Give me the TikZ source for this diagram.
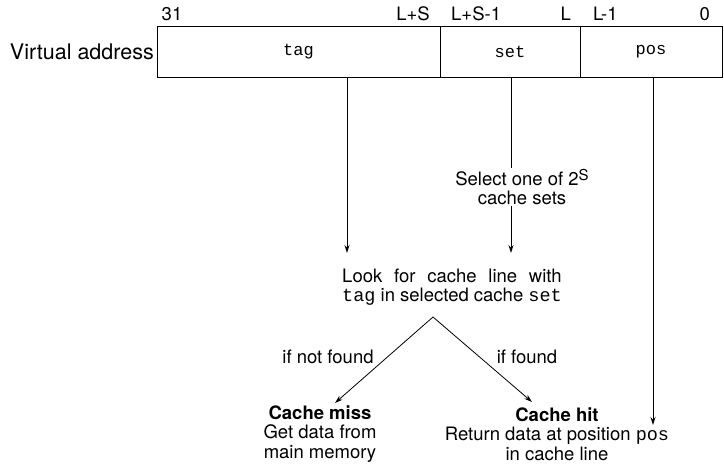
\documentclass[tikz,border=0pt]{standalone}
\usepackage{fontspec}
\usepackage{calc}
\setmainfont{TeX Gyre Heros}
\setmonofont{Liberation Mono}
\usetikzlibrary{arrows.meta}
\begin{document}
\begin{tikzpicture}[x=1pt,y=-1pt,
  txt/.style={inner sep=1pt,font=\fontsize{18.5}{19.5}\selectfont},
  field/.style={draw,line width=0.9pt,minimum height=51pt,inner sep=0pt,font=\fontsize{17}{20}\ttfamily},
  arr/.style={line width=0.8pt,-{Stealth[length=8pt,width=5pt]}},
  ln/.style={line width=0.8pt}]
\useasboundingbox (0,0) rectangle (724,466);
% address fields
\node[field,minimum width=283pt] (tag) at (298.5,51.5) {tag};
\node[field,minimum width=140pt] (set) at (510,51.5) {set};
\node[field,minimum width=142pt] (pos) at (651,51.5) {pos};
\node[anchor=east,inner sep=1pt,font=\fontsize{21.5}{24}\selectfont] (va) at (155,52) {Virtual address};
% bit labels
\node[txt] (b31) at (172,14) {31};
\node[txt,anchor=east] (bls) at (431,14) {L+S};
\node[txt,anchor=west] (bls1) at (450,14) {L+S-1};
\node[txt,anchor=east] (bl) at (572,14) {L};
\node[txt,anchor=west] (bl1) at (592,14) {L-1};
\node[txt,anchor=east] (b0) at (711,14) {0};
% texts
\node[txt,align=center] (select) at (522,187) {Select one of 2\raisebox{5pt}{\fontsize{15}{15}\selectfont S}\\cache sets};
\node[txt,align=center] (look) at (452,287)
  {\makebox[\widthof{\texttt{tag} in selected cache \texttt{set}}][s]{Look for cache line with}\\\texttt{tag} in selected cache \texttt{set}};
\node[txt] (notfound) at (328,357) {if not found};
\node[txt] (found) at (527,357) {if found};
\node[txt,align=center] (miss) at (320,434) {\textbf{Cache miss}\\Get data from\\main memory};
\node[txt,align=center] (hit) at (557,434) {\textbf{Cache hit}\\Return data at position \texttt{pos}\\in cache line};
% connector points
\coordinate (tagout) at (347,77);
\coordinate (setout) at (511,77);
\coordinate (posout) at (653,77);
\coordinate (lookin) at (347,253);
\coordinate (apex) at (433,317);
\coordinate (missin) at (335,403);
\coordinate (hitin) at (532,402);
\coordinate (posin) at (653,425);
% connectors
\draw[arr] (tagout) -- (lookin);
\draw[ln] (setout) -- (setout |- select.north);
\draw[arr] (setout |- select.south) -- (setout |- lookin);
\draw[arr] (posout) -- (posin);
\draw[arr] (apex) -- (missin);
\draw[arr] (apex) -- (hitin);
\end{tikzpicture}
\end{document}
